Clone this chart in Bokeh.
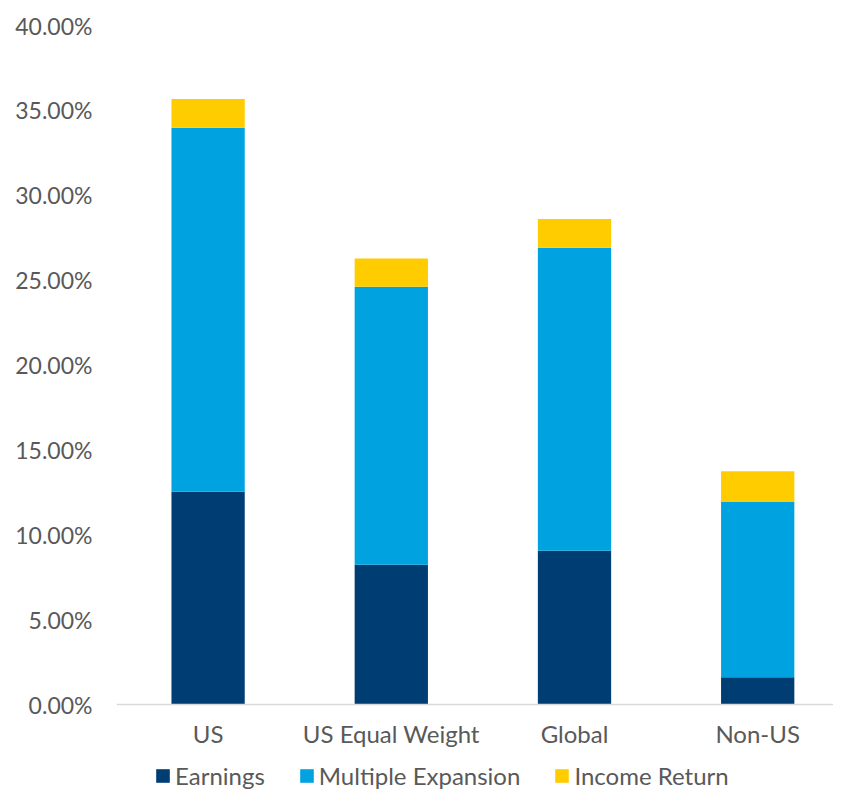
from bokeh.plotting import figure
from bokeh.models import ColumnDataSource, Range1d, FixedTicker, NumeralTickFormatter, Legend
from bokeh.embed import file_html
from bokeh.resources import INLINE

categories = ["US", "US Equal Weight", "Global", "Non-US"]
earnings = [12.54, 8.24, 9.06, 1.61]
multiple_expansion = [21.44, 16.37, 17.84, 10.32]
income_return = [1.69, 1.67, 1.70, 1.81]
series_names = ["Earnings", "Multiple Expansion", "Income Return"]
y_ticks = [0, 5, 10, 15, 20, 25, 30, 35, 40]

colors = ["#003D73", "#00A3E0", "#FFCC00"]
text_color = "#595959"
font = "Lato"

# layout (pixels)
W, H = 833, 790
top, left = 25, 116
plot_h = 679            # pixels between 0% and 40%
below_space = H - top - plot_h   # room under the 0% line for labels + legend
y_max = max(y_ticks) / 100
y_min = -y_max * below_space / plot_h

xpos = [i + 0.5 for i in range(len(categories))]
source = ColumnDataSource(dict(
    x=xpos,
    Earnings=[v / 100 for v in earnings],
    Multiple=[v / 100 for v in multiple_expansion],
    Income=[v / 100 for v in income_return],
))

p = figure(width=W, height=H, output_backend="svg", toolbar_location=None,
           x_range=Range1d(0, (W - left) / 183.2), y_range=Range1d(y_min, y_max),
           min_border_left=left, min_border_right=0, min_border_top=top,
           min_border_bottom=0)

renderers = p.vbar_stack(["Earnings", "Multiple", "Income"], x="x", width=0.4,
                         color=colors, line_color=None, source=source)

p.xaxis.fixed_location = 0
p.xaxis.ticker = FixedTicker(ticks=xpos)
p.xaxis.major_label_overrides = {x: c for x, c in zip(xpos, categories)}
p.yaxis.ticker = FixedTicker(ticks=[t / 100 for t in y_ticks])
p.yaxis.formatter = NumeralTickFormatter(format="0.00%")

for ax in (p.xaxis, p.yaxis):
    ax.major_tick_line_color = None
    ax.minor_tick_line_color = None
    ax.major_label_text_font = font
    ax.major_label_text_color = text_color
p.xaxis.major_label_text_font_size = "24px"
p.yaxis.major_label_text_font_size = "23px"
p.yaxis.axis_line_color = None
p.yaxis.major_label_standoff = 18
p.xaxis.axis_line_color = "#D9D9D9"
p.xaxis.axis_line_width = 1.5
p.xaxis.major_label_standoff = 8

p.xgrid.grid_line_color = None
p.ygrid.grid_line_color = None
p.outline_line_color = None

legend = Legend(items=[(n, [r]) for n, r in zip(series_names, renderers)],
                orientation="horizontal", location=(38, 0),
                glyph_width=17, glyph_height=17, label_standoff=4, spacing=33,
                padding=0, margin=0, border_line_color=None,
                background_fill_alpha=0,
                label_text_font=font, label_text_font_size="24px",
                label_text_color=text_color)
p.add_layout(legend, "center")

open("out.html", "w").write(file_html(p, INLINE))
